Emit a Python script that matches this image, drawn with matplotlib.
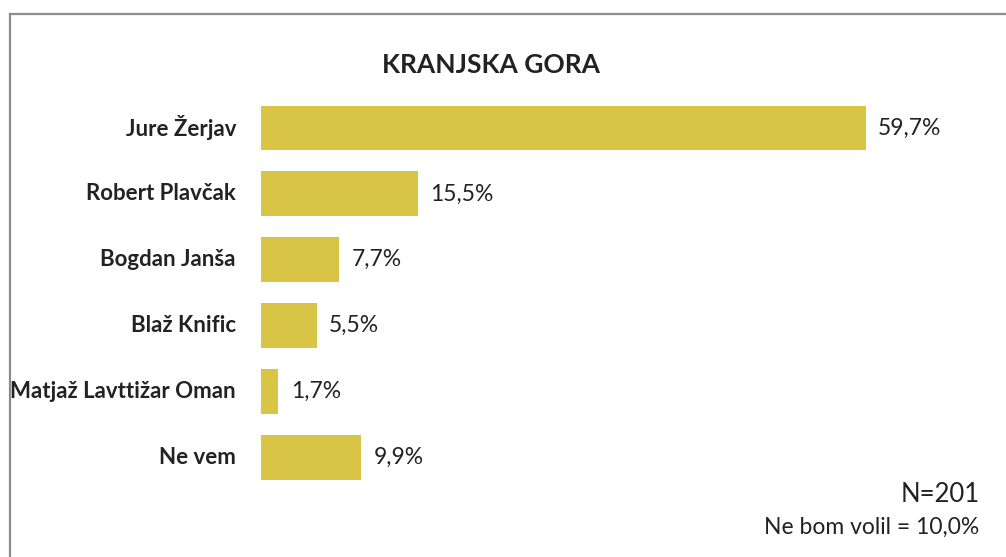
import matplotlib.pyplot as plt
from matplotlib.lines import Line2D

plt.rcParams['font.family'] = ['Lato', 'DejaVu Sans']

# data
names = ["Jure Žerjav", "Robert Plavčak", "Bogdan Janša", "Blaž Knific",
         "Matjaž Lavttižar Oman", "Ne vem"]
shares = [59.7, 15.5, 7.7, 5.5, 1.7, 9.9]
labels = ["59,7%", "15,5%", "7,7%", "5,5%", "1,7%", "9,9%"]

W, H = 1006, 557
fig = plt.figure(figsize=(W / 100, H / 100), dpi=100)
ax = fig.add_axes([261 / W, 1 - 490.5 / H, 709 / W, (490.5 - 95) / H])

pos = list(range(len(names)))
ax.barh(pos, shares, height=0.68, color='#D8C546')
ax.set_xlim(0, 70)
ax.set_ylim(len(names) - 0.5, -0.5)
ax.axis('off')

for p, v, lab, nm in zip(pos, shares, labels, names):
    ax.annotate(lab, (v, p), xytext=(9, 0), textcoords='offset points',
                ha='left', va='center', fontsize=16.5, color='#222222')
    ax.annotate(nm, (0, p), xytext=(-25 * 0.72, 0), textcoords='offset points',
                ha='right', va='center', fontsize=16, fontweight='bold',
                color='#222222')

fig.text(491 / W, 1 - 65 / H, "KRANJSKA GORA", ha='center', va='center',
         fontsize=19, fontweight='bold', color='#222222')
fig.text(980 / W, 1 - 494 / H, "N=201", ha='right', va='center',
         fontsize=18.5, color='#222222')
fig.text(979 / W, 1 - 527 / H, "Ne bom volil = 10,0%", ha='right', va='center',
         fontsize=16.5, color='#222222')

# frame lines (top and left)
top = 1 - 14 / H
left = 10 / W
fig.add_artist(Line2D([left, 1], [top, top], color='#8c8c8c', lw=1.6))
fig.add_artist(Line2D([left, left], [0, top], color='#8c8c8c', lw=1.6))

fig.savefig('out.png', dpi=100, facecolor='white')
